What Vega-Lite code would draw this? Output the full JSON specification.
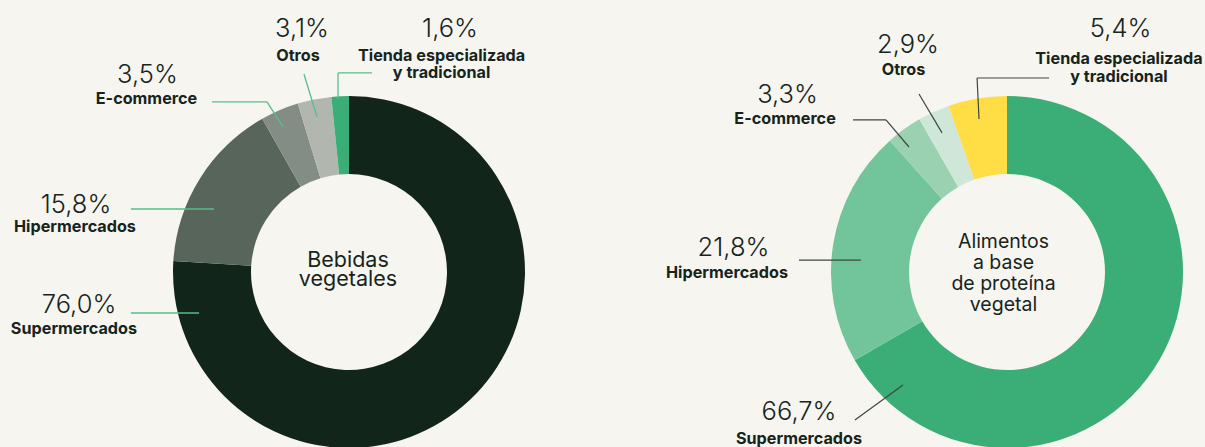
{
  "$schema": "https://vega.github.io/schema/vega-lite/v6.json",
  "background": "#f6f5f0",
  "padding": 0,
  "autosize": {"type": "pad"},
  "bounds": "flush",
  "spacing": 111,
  "resolve": {"scale": {"color": "independent", "theta": "independent"}},
  "config": {
    "view": {"stroke": null},
    "text": {"font": "Inter", "color": "#16241b"}
  },
  "hconcat": [
    {
      "width": 547,
      "height": 447,
      "layer": [
        {
          "data": {"values": [
            {"canal": "Supermercados", "pct": 76.0, "orden": 1},
            {"canal": "Hipermercados", "pct": 15.8, "orden": 2},
            {"canal": "E-commerce", "pct": 3.5, "orden": 3},
            {"canal": "Otros", "pct": 3.1, "orden": 4},
            {"canal": "Tienda especializada y tradicional", "pct": 1.6, "orden": 5}
          ]},
          "mark": {"type": "arc", "outerRadius": 176, "innerRadius": 98, "clip": true},
          "encoding": {
            "theta": {"field": "pct", "type": "quantitative", "stack": true},
            "order": {"field": "orden", "type": "quantitative"},
            "color": {"field": "canal", "type": "nominal", "legend": null,
              "scale": {"domain": ["Supermercados", "Hipermercados", "E-commerce", "Otros", "Tienda especializada y tradicional"],
                        "range": ["#12251b", "#58655b", "#848d85", "#b1b6af", "#3aae76"]}},
            "x": {"datum": 0, "type": "quantitative", "scale": {"domain": [-198.3, 112.5], "nice": false, "zero": false}, "axis": null},
            "y": {"datum": 0, "type": "quantitative", "scale": {"domain": [-99.4, 154.5], "nice": false, "zero": false}, "axis": null}
          }
        },
        {
          "data": {"values": [
            {"a": -123.9, "b": -23.3, "a2": -85.2, "b2": -23.3},
            {"a": -123.9, "b": 35.8, "a2": -76.7, "b2": 35.8},
            {"a": -77.8, "b": 96.6, "a2": -46.6, "b2": 96.6},
            {"a": -46.6, "b": 96.6, "a2": -37.5, "b2": 82.4},
            {"a": -25.6, "b": 112.5, "a2": -18.2, "b2": 88.1},
            {"a": 13.1, "b": 113.1, "a2": -6.25, "b2": 113.1},
            {"a": -6.25, "b": 113.1, "a2": -6.25, "b2": 98.3}
          ]},
          "mark": {"type": "rule", "color": "#55bf8a", "strokeWidth": 1.3},
          "encoding": {
            "x": {"field": "a", "type": "quantitative"},
            "y": {"field": "b", "type": "quantitative"},
            "x2": {"field": "a2"},
            "y2": {"field": "b2"}
          }
        },
        {
          "data": {"values": [
            {"t": "76,0%", "a": -153.4, "b": -23.3},
            {"t": "15,8%", "a": -155.1, "b": 33.5},
            {"t": "3,5%", "a": -114.5, "b": 107.4},
            {"t": "3,1%", "a": -26.7, "b": 133.5},
            {"t": "1,6%", "a": 57.4, "b": 133.5}
          ]},
          "mark": {"type": "text", "fontSize": 25.5, "fontWeight": 300, "align": "center", "baseline": "alphabetic", "clip": true},
          "encoding": {
            "x": {"field": "a", "type": "quantitative"},
            "y": {"field": "b", "type": "quantitative"},
            "text": {"field": "t"}
          }
        },
        {
          "data": {"values": [
            {"t": ["Supermercados"], "a": -156.3, "b": -35.2},
            {"t": ["Hipermercados"], "a": -155.7, "b": 22.7},
            {"t": ["E-commerce"], "a": -115.1, "b": 95.5},
            {"t": ["Otros"], "a": -29.0, "b": 119.9},
            {"t": ["Tienda especializada", "y tradicional"], "a": 52.6, "b": 119.9}
          ]},
          "mark": {"type": "text", "fontSize": 16.2, "fontWeight": 700, "align": "center", "baseline": "alphabetic", "lineHeight": 17, "clip": true},
          "encoding": {
            "x": {"field": "a", "type": "quantitative"},
            "y": {"field": "b", "type": "quantitative"},
            "text": {"field": "t"}
          }
        },
        {
          "data": {"values": [
            {"t": ["Bebidas", "vegetales"], "a": -0.6, "b": 3.0}
          ]},
          "mark": {"type": "text", "fontSize": 21.5, "fontWeight": 400, "align": "center", "baseline": "alphabetic", "lineHeight": 19.5},
          "encoding": {
            "x": {"field": "a", "type": "quantitative"},
            "y": {"field": "b", "type": "quantitative"},
            "text": {"field": "t"}
          }
        }
      ]
    },
    {
      "width": 547,
      "height": 447,
      "layer": [
        {
          "data": {"values": [
            {"canal": "Supermercados", "pct": 66.7, "orden": 1},
            {"canal": "Hipermercados", "pct": 21.8, "orden": 2},
            {"canal": "E-commerce", "pct": 3.3, "orden": 3},
            {"canal": "Otros", "pct": 2.9, "orden": 4},
            {"canal": "Tienda especializada y tradicional", "pct": 5.4, "orden": 5}
          ]},
          "mark": {"type": "arc", "outerRadius": 176, "innerRadius": 98, "clip": true},
          "encoding": {
            "theta": {"field": "pct", "type": "quantitative", "stack": true},
            "order": {"field": "orden", "type": "quantitative"},
            "color": {"field": "canal", "type": "nominal", "legend": null,
              "scale": {"domain": ["Supermercados", "Hipermercados", "E-commerce", "Otros", "Tienda especializada y tradicional"],
                        "range": ["#3aae76", "#72c49a", "#99d1b1", "#cfe7d8", "#ffdd45"]}},
            "x": {"datum": 0, "type": "quantitative", "scale": {"domain": [-198.3, 112.5], "nice": false, "zero": false}, "axis": null},
            "y": {"datum": 0, "type": "quantitative", "scale": {"domain": [-99.4, 154.5], "nice": false, "zero": false}, "axis": null}
          }
        },
        {
          "data": {"values": [
            {"a": -86.4, "b": -84.1, "a2": -59.1, "b2": -64.2},
            {"a": -118.2, "b": 6.8, "a2": -83.0, "b2": 6.8},
            {"a": -87.5, "b": 86.4, "a2": -68.75, "b2": 86.4},
            {"a": -68.75, "b": 86.4, "a2": -55.7, "b2": 71.0},
            {"a": -50.0, "b": 101.1, "a2": -36.9, "b2": 79.0},
            {"a": 23.9, "b": 110.2, "a2": -17.0, "b2": 110.2},
            {"a": -17.0, "b": 110.2, "a2": -15.9, "b2": 86.9}
          ]},
          "mark": {"type": "rule", "color": "#3c4840", "strokeWidth": 1.2},
          "encoding": {
            "x": {"field": "a", "type": "quantitative"},
            "y": {"field": "b", "type": "quantitative"},
            "x2": {"field": "a2"},
            "y2": {"field": "b2"}
          }
        },
        {
          "data": {"values": [
            {"t": "66,7%", "a": -118.2, "b": -84.1},
            {"t": "21,8%", "a": -155.4, "b": 9.1},
            {"t": "3,3%", "a": -124.7, "b": 96.0},
            {"t": "2,9%", "a": -56.25, "b": 124.4},
            {"t": "5,4%", "a": 64.5, "b": 133.5}
          ]},
          "mark": {"type": "text", "fontSize": 25.5, "fontWeight": 300, "align": "center", "baseline": "alphabetic", "clip": true},
          "encoding": {
            "x": {"field": "a", "type": "quantitative"},
            "y": {"field": "b", "type": "quantitative"},
            "text": {"field": "t"}
          }
        },
        {
          "data": {"values": [
            {"t": ["Supermercados"], "a": -118.2, "b": -97.7},
            {"t": ["Hipermercados"], "a": -159.1, "b": -3.4},
            {"t": ["E-commerce"], "a": -126.1, "b": 84.1},
            {"t": ["Otros"], "a": -58.8, "b": 111.9},
            {"t": ["Tienda especializada", "y tradicional"], "a": 63.6, "b": 118.2}
          ]},
          "mark": {"type": "text", "fontSize": 16.2, "fontWeight": 700, "align": "center", "baseline": "alphabetic", "lineHeight": 18, "clip": true},
          "encoding": {
            "x": {"field": "a", "type": "quantitative"},
            "y": {"field": "b", "type": "quantitative"},
            "text": {"field": "t"}
          }
        },
        {
          "data": {"values": [
            {"t": ["Alimentos", "a base", "de proteína", "vegetal"], "a": -2.0, "b": 13.6}
          ]},
          "mark": {"type": "text", "fontSize": 19.5, "fontWeight": 400, "align": "center", "baseline": "alphabetic", "lineHeight": 21},
          "encoding": {
            "x": {"field": "a", "type": "quantitative"},
            "y": {"field": "b", "type": "quantitative"},
            "text": {"field": "t"}
          }
        }
      ]
    }
  ]
}
